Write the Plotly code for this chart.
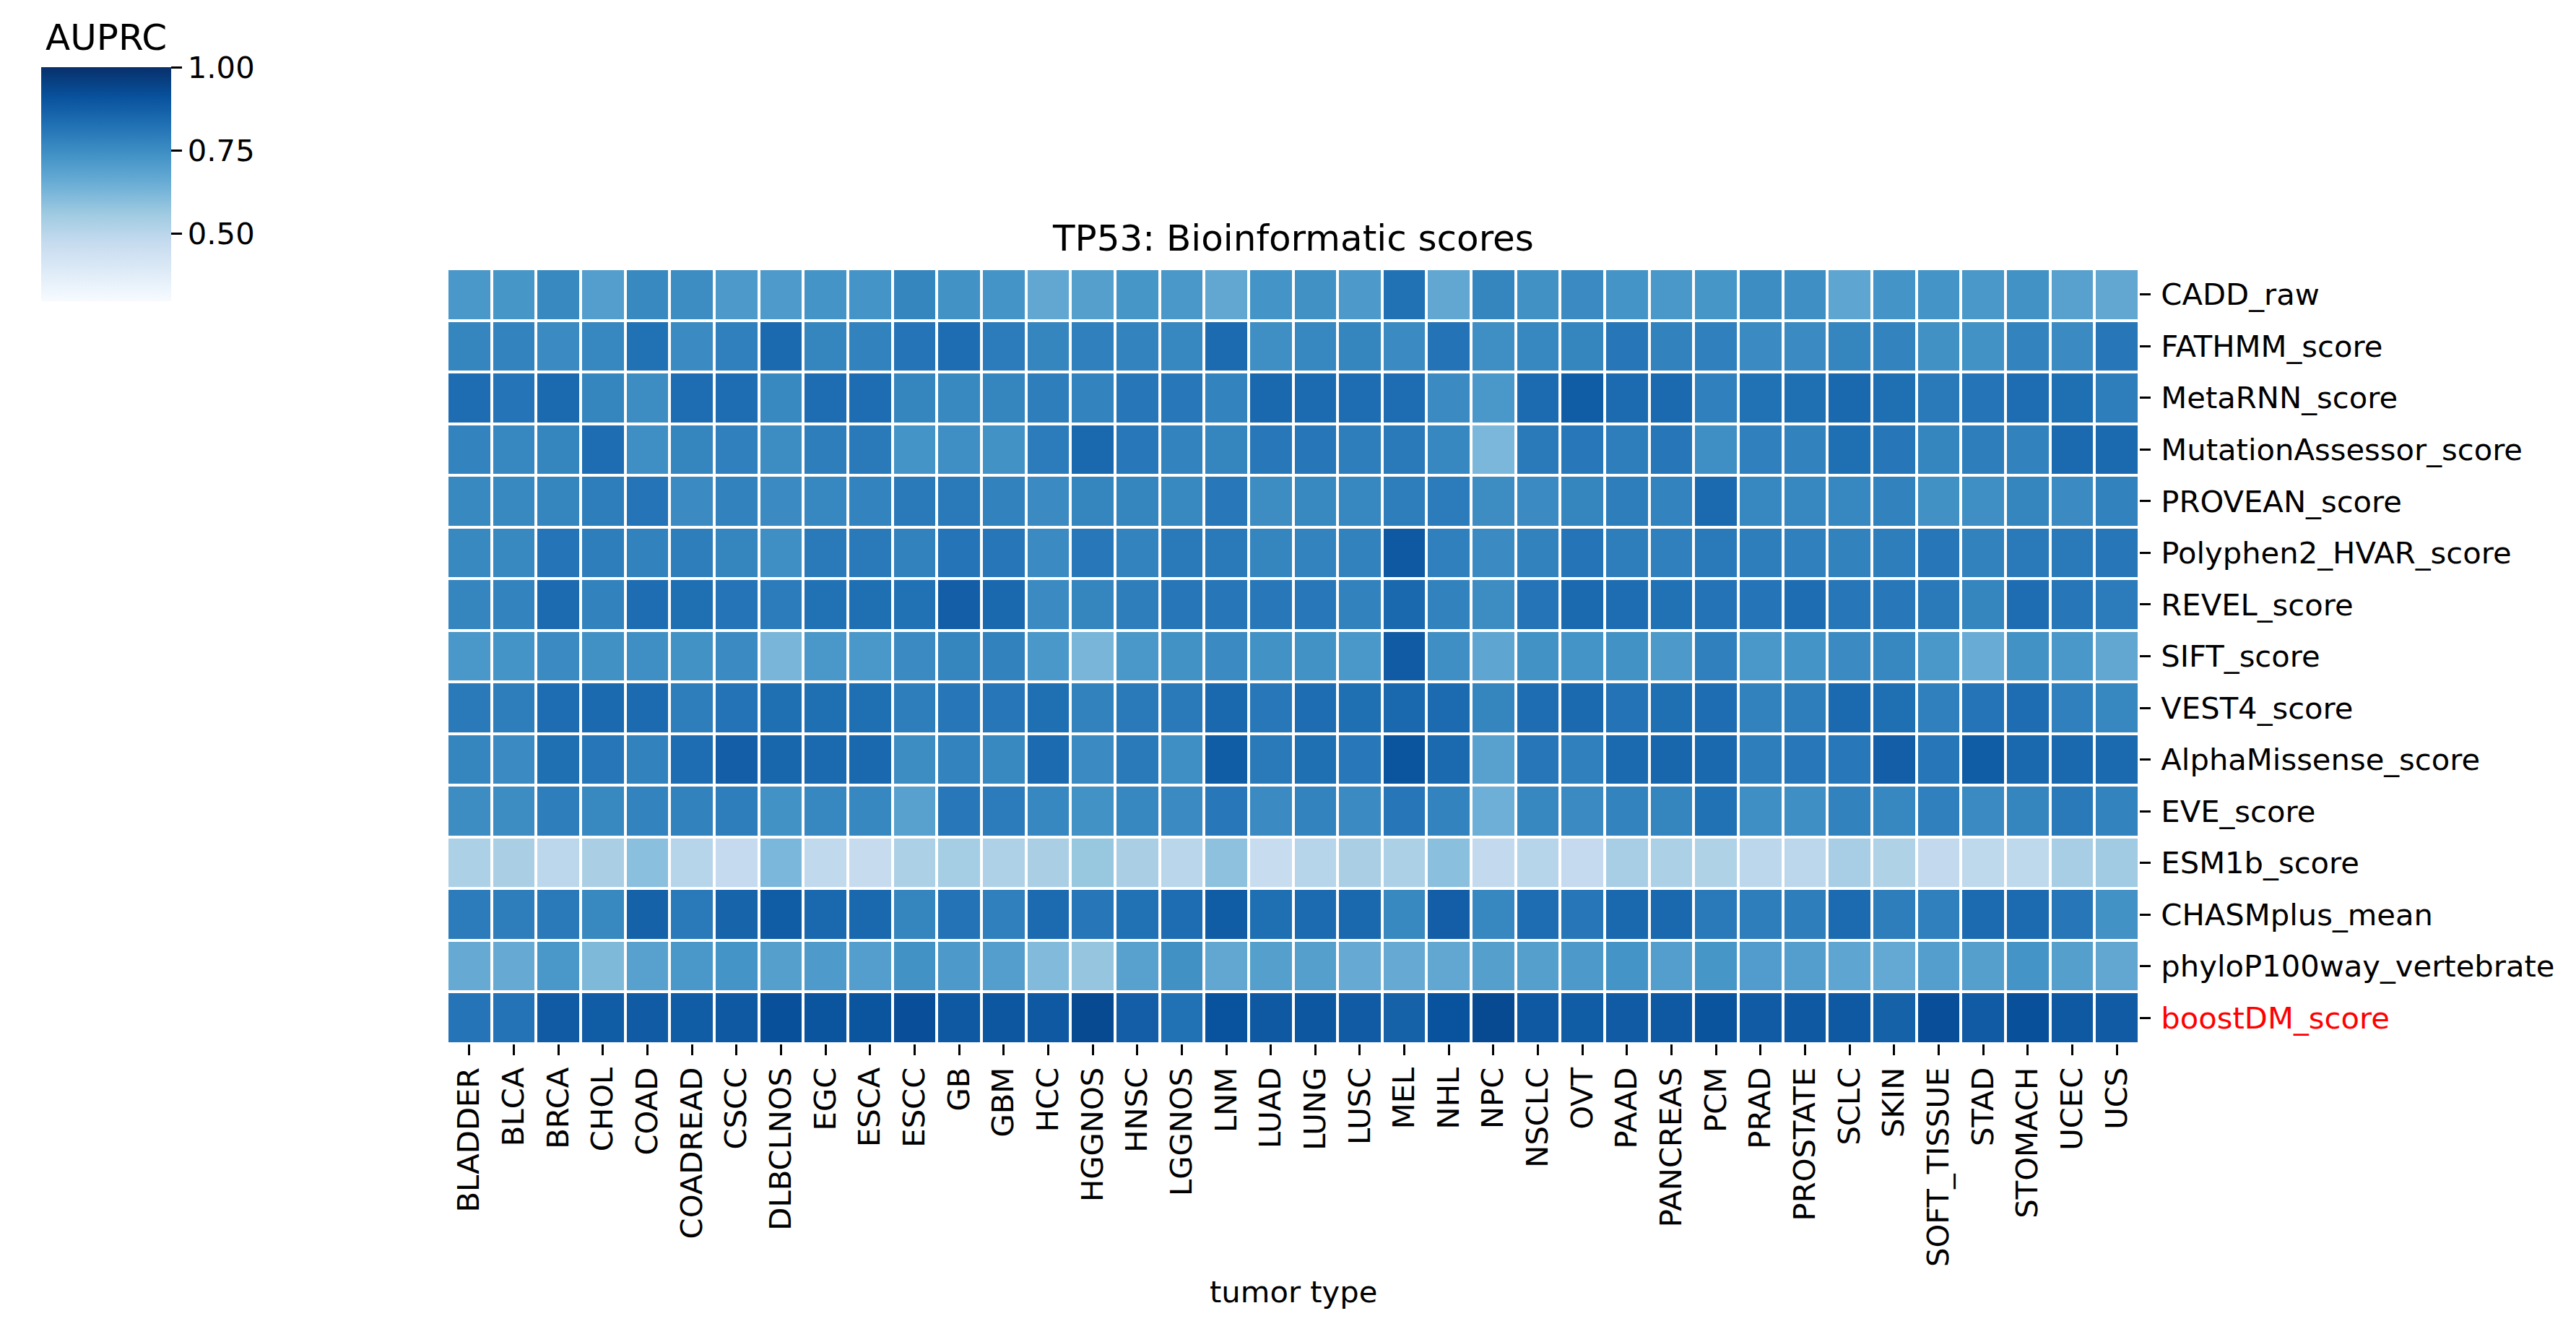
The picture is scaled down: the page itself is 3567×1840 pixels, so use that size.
import plotly.graph_objects as go

# page (screenshot) size; the html body adds an 8px margin around the figure
PAGE_W, PAGE_H = 3567, 1840
OFF = 8
W, H = PAGE_W - 2 * OFF, PAGE_H - 2 * OFF


def fx(px):
    return (px - OFF) / W


def fy(py):
    return 1 - (py - OFF) / H


tumor_types = ["BLADDER", "BLCA", "BRCA", "CHOL", "COAD", "COADREAD", "CSCC", "DLBCLNOS",
               "EGC", "ESCA", "ESCC", "GB", "GBM", "HCC", "HGGNOS", "HNSC", "LGGNOS", "LNM",
               "LUAD", "LUNG", "LUSC", "MEL", "NHL", "NPC", "NSCLC", "OVT", "PAAD", "PANCREAS",
               "PCM", "PRAD", "PROSTATE", "SCLC", "SKIN", "SOFT_TISSUE", "STAD", "STOMACH",
               "UCEC", "UCS"]

scores = ["CADD_raw", "FATHMM_score", "MetaRNN_score", "MutationAssessor_score",
          "PROVEAN_score", "Polyphen2_HVAR_score", "REVEL_score", "SIFT_score",
          "VEST4_score", "AlphaMissense_score", "EVE_score", "ESM1b_score",
          "CHASMplus_mean", "phyloP100way_vertebrate", "boostDM_score"]

cadd_raw = [0.72, 0.725, 0.76, 0.70, 0.76, 0.75, 0.715, 0.71, 0.73, 0.73, 0.77, 0.735, 0.73,
            0.67, 0.695, 0.725, 0.72, 0.67, 0.73, 0.74, 0.715, 0.825, 0.67, 0.77, 0.74,
            0.755, 0.73, 0.72, 0.725, 0.75, 0.745, 0.675, 0.73, 0.73, 0.72, 0.735, 0.69, 0.67]
fathmm = [0.77, 0.775, 0.755, 0.765, 0.825, 0.755, 0.785, 0.845, 0.77, 0.78, 0.815, 0.835, 0.795,
          0.77, 0.785, 0.775, 0.765, 0.84, 0.745, 0.765, 0.77, 0.755, 0.82, 0.745, 0.765,
          0.77, 0.81, 0.78, 0.785, 0.755, 0.755, 0.77, 0.775, 0.74, 0.735, 0.775, 0.755, 0.81]
metarnn = [0.835, 0.815, 0.845, 0.77, 0.75, 0.835, 0.835, 0.76, 0.835, 0.835, 0.77, 0.76, 0.77,
           0.79, 0.775, 0.81, 0.805, 0.775, 0.85, 0.84, 0.835, 0.835, 0.755, 0.72, 0.84,
           0.88, 0.84, 0.845, 0.785, 0.825, 0.83, 0.85, 0.83, 0.80, 0.815, 0.835, 0.83, 0.79]
mutation_assessor = [0.775, 0.765, 0.77, 0.835, 0.745, 0.77, 0.785, 0.75, 0.79, 0.80, 0.73, 0.745, 0.735,
                     0.795, 0.85, 0.805, 0.775, 0.77, 0.805, 0.81, 0.79, 0.80, 0.765, 0.62, 0.80,
                     0.805, 0.79, 0.81, 0.745, 0.785, 0.78, 0.83, 0.81, 0.77, 0.79, 0.78, 0.845, 0.845]
provean = [0.76, 0.76, 0.77, 0.79, 0.815, 0.755, 0.78, 0.755, 0.765, 0.775, 0.80, 0.80, 0.78,
           0.755, 0.77, 0.77, 0.76, 0.805, 0.75, 0.76, 0.765, 0.79, 0.795, 0.75, 0.755,
           0.77, 0.79, 0.775, 0.845, 0.765, 0.765, 0.765, 0.78, 0.74, 0.745, 0.77, 0.755, 0.78]
polyphen2 = [0.76, 0.76, 0.815, 0.79, 0.78, 0.79, 0.77, 0.745, 0.80, 0.80, 0.78, 0.815, 0.81,
             0.755, 0.805, 0.775, 0.80, 0.80, 0.77, 0.775, 0.78, 0.89, 0.785, 0.755, 0.78,
             0.815, 0.79, 0.785, 0.80, 0.79, 0.785, 0.78, 0.79, 0.81, 0.78, 0.80, 0.80, 0.81]
revel = [0.77, 0.775, 0.84, 0.78, 0.835, 0.83, 0.815, 0.795, 0.825, 0.83, 0.825, 0.875, 0.85,
         0.755, 0.77, 0.79, 0.81, 0.81, 0.805, 0.805, 0.78, 0.85, 0.78, 0.75, 0.815,
         0.845, 0.835, 0.825, 0.82, 0.815, 0.835, 0.81, 0.805, 0.80, 0.77, 0.835, 0.81, 0.795]
sift = [0.72, 0.73, 0.755, 0.74, 0.745, 0.735, 0.755, 0.625, 0.72, 0.72, 0.755, 0.77, 0.78,
        0.72, 0.625, 0.72, 0.735, 0.755, 0.735, 0.735, 0.72, 0.885, 0.745, 0.675, 0.735,
        0.73, 0.735, 0.715, 0.785, 0.72, 0.73, 0.755, 0.765, 0.72, 0.655, 0.735, 0.72, 0.67]
vest4 = [0.80, 0.79, 0.835, 0.845, 0.84, 0.79, 0.82, 0.83, 0.83, 0.83, 0.79, 0.81, 0.81,
         0.83, 0.78, 0.80, 0.80, 0.85, 0.805, 0.835, 0.83, 0.85, 0.84, 0.77, 0.835,
         0.845, 0.82, 0.83, 0.835, 0.78, 0.79, 0.845, 0.83, 0.785, 0.815, 0.835, 0.785, 0.765]
alphamissense = [0.77, 0.755, 0.83, 0.81, 0.78, 0.835, 0.875, 0.855, 0.845, 0.85, 0.75, 0.775, 0.76,
                 0.84, 0.755, 0.80, 0.745, 0.88, 0.80, 0.83, 0.805, 0.90, 0.845, 0.69, 0.81,
                 0.785, 0.845, 0.855, 0.85, 0.79, 0.805, 0.805, 0.875, 0.81, 0.88, 0.85, 0.85, 0.845]
eve = [0.75, 0.75, 0.79, 0.76, 0.775, 0.78, 0.79, 0.735, 0.765, 0.765, 0.69, 0.805, 0.795,
       0.765, 0.735, 0.765, 0.755, 0.805, 0.755, 0.775, 0.755, 0.81, 0.775, 0.645, 0.765,
       0.755, 0.775, 0.77, 0.825, 0.745, 0.745, 0.78, 0.765, 0.785, 0.755, 0.77, 0.80, 0.775]
esm1b = [0.53, 0.535, 0.495, 0.535, 0.595, 0.505, 0.475, 0.62, 0.485, 0.47, 0.53, 0.545, 0.525,
         0.535, 0.57, 0.535, 0.50, 0.59, 0.465, 0.505, 0.535, 0.53, 0.595, 0.48, 0.505,
         0.475, 0.54, 0.53, 0.52, 0.495, 0.495, 0.54, 0.52, 0.48, 0.49, 0.49, 0.54, 0.555]
chasmplus = [0.795, 0.79, 0.80, 0.76, 0.865, 0.80, 0.86, 0.88, 0.85, 0.85, 0.77, 0.82, 0.785,
             0.84, 0.81, 0.825, 0.835, 0.88, 0.83, 0.84, 0.85, 0.76, 0.875, 0.765, 0.835,
             0.81, 0.85, 0.85, 0.80, 0.79, 0.79, 0.84, 0.79, 0.785, 0.84, 0.84, 0.81, 0.735]
phylop = [0.66, 0.66, 0.72, 0.615, 0.69, 0.72, 0.73, 0.695, 0.71, 0.70, 0.735, 0.715, 0.70,
          0.61, 0.575, 0.69, 0.74, 0.67, 0.695, 0.695, 0.66, 0.66, 0.67, 0.695, 0.695,
          0.715, 0.73, 0.70, 0.725, 0.705, 0.70, 0.675, 0.665, 0.70, 0.695, 0.73, 0.695, 0.67]
boostdm = [0.815, 0.82, 0.885, 0.88, 0.885, 0.88, 0.89, 0.915, 0.90, 0.90, 0.92, 0.89, 0.895,
           0.89, 0.93, 0.875, 0.825, 0.91, 0.89, 0.895, 0.885, 0.865, 0.91, 0.93, 0.89,
           0.88, 0.885, 0.89, 0.905, 0.885, 0.89, 0.89, 0.865, 0.92, 0.885, 0.915, 0.89, 0.885]

z = [cadd_raw, fathmm, metarnn, mutation_assessor, provean, polyphen2, revel, sift,
     vest4, alphamissense, eve, esm1b, chasmplus, phylop, boostdm]

cbar_ticks = [0.5, 0.75, 1.0]
cbar_ticktext = ["0.50", "0.75", "1.00"]

# matplotlib "Blues"
blues = ["#f7fbff", "#deebf7", "#c6dbef", "#9ecae1", "#6baed6",
         "#4292c6", "#2171b5", "#08519c", "#08306b"]
colorscale = [[i / 8, c] for i, c in enumerate(blues)]

FONT = "DejaVu Sans"
FS = 41.7

# geometry (page pixels)
hx0, hx1 = 619, 2962
hy0, hy1 = 372, 1445

ticktext_y = [s if s != "boostDM_score" else '<span style="color:red">boostDM_score</span>'
              for s in scores]

fig = go.Figure(go.Heatmap(
    z=z, x=tumor_types, y=scores,
    zmin=0.2965, zmax=1.0,
    colorscale=colorscale,
    xgap=4, ygap=4,
    colorbar=dict(
        x=fx(57), xanchor="left", xpad=0,
        y=fy(93), yanchor="top", ypad=0,
        thickness=180, thicknessmode="pixels",
        len=324, lenmode="pixels",
        outlinewidth=0,
        tickvals=cbar_ticks, ticktext=cbar_ticktext,
        ticks="outside", ticklen=15, tickwidth=3, tickcolor="black",
        tickfont=dict(family=FONT, size=FS, color="black"),
    ),
))

fig.update_layout(
    width=W, height=H,
    margin=dict(l=0, r=0, t=0, b=0, autoexpand=False),
    paper_bgcolor="white", plot_bgcolor="white",
    font=dict(family=FONT, size=FS, color="black"),
    xaxis=dict(
        domain=[fx(hx0), fx(hx1)],
        tickangle=-90, ticks="outside", ticklen=15, tickwidth=3, tickcolor="black",
        tickfont=dict(family=FONT, size=FS, color="black"),
        showgrid=False, zeroline=False, showline=False,
    ),
    yaxis=dict(
        domain=[fy(hy1), fy(hy0)],
        side="right", autorange="reversed",
        tickmode="array", tickvals=scores, ticktext=ticktext_y,
        ticks="outside", ticklen=15, tickwidth=3, tickcolor="black",
        ticklabelstandoff=6,
        tickfont=dict(family=FONT, size=FS, color="black"),
        showgrid=False, zeroline=False, showline=False,
    ),
    annotations=[
        dict(text="TP53: Bioinformatic scores", x=fx((hx0 + hx1) / 2), y=fy(330),
             xref="paper", yref="paper", xanchor="center", yanchor="middle",
             showarrow=False, font=dict(family=FONT, size=50, color="black")),
        dict(text="tumor type", x=fx((hx0 + hx1) / 2), y=fy(1788),
             xref="paper", yref="paper", xanchor="center", yanchor="middle",
             showarrow=False, font=dict(family=FONT, size=FS, color="black")),
        dict(text="AUPRC", x=fx(147), y=fy(52),
             xref="paper", yref="paper", xanchor="center", yanchor="middle",
             showarrow=False, font=dict(family=FONT, size=50, color="black")),
    ],
)

fig.write_html("out.html")
